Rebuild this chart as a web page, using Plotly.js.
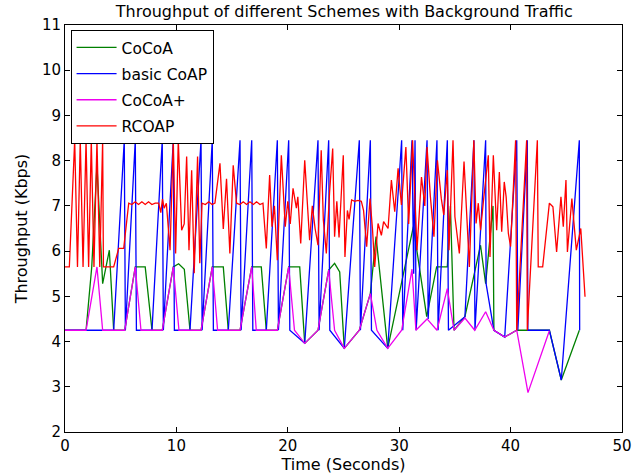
<!DOCTYPE html>
<html>
<head>
<meta charset="utf-8">
<script src="https://cdn.plot.ly/plotly-3.0.1.min.js"></script>
<style>
  html, body { margin: 0; padding: 0; background: #fff; }
  #chart { width: 634px; height: 474px; }
</style>
</head>
<body>
<div id="chart"></div>
<script>
// ---- data ----
const seriesNames = ["CoCoA", "basic CoAP", "CoCoA+", "RCOAP"];

const cocoaTime = [0, 1.89, 2.4, 2.87, 3.38, 3.98, 4.37, 5.36, 6.31, 7.2, 7.81, 8.73, 9.72, 10.2, 10.71, 11.22,
  12.21, 13.22, 14.21, 14.66, 15.71, 16.76, 17.62, 18.07, 19.06, 20.08, 21.07, 21.52, 22.71, 23.67, 24.2, 24.66,
  25.07, 26.42, 27.41, 27.92, 28.97, 31.27, 32.47, 33.36, 34.32, 34.6, 34.92, 35.9, 37.3, 37.76, 38.42, 38.5,
  39.47, 40.55, 41.5, 43.48, 44.55, 46.17];
const cocoaKbps = [4.25, 4.25, 5.65, 7.9, 5.28, 6.02, 4.25, 4.25, 5.65, 5.65, 4.25, 4.25, 5.65, 5.72, 5.6, 4.25,
  4.25, 5.65, 5.65, 4.25, 4.25, 5.65, 5.65, 4.25, 4.25, 5.65, 5.65, 3.96, 4.25, 5.58, 5.73, 5.54,
  3.85, 4.25, 5.06, 6.32, 3.85, 6.54, 4.55, 5.65, 5.65, 7.0, 4.25, 4.55, 6.13, 5.28, 7.0, 4.25,
  4.1, 4.25, 4.25, 4.25, 3.15, 4.25];

const coapTime = [0, 4.37, 5.32, 5.42, 6.31, 6.41, 7.81, 8.73, 8.83, 9.72, 9.82, 11.22, 12.21, 12.31, 13.22, 13.32,
  14.66, 15.71, 15.81, 16.76, 16.86, 18.07, 19.06, 19.16, 20.08, 20.18, 21.52, 22.71, 22.81, 23.67, 23.77,
  25.07, 26.42, 26.52, 27.41, 27.51, 28.97, 30.22, 30.32, 31.15, 31.3, 31.42, 31.52, 32.5, 32.6, 33.39, 33.49,
  34.32, 34.42, 35.9, 36.71, 36.8, 37.76, 37.8, 38.5, 39.47, 40.55, 40.65, 41.5, 41.55, 43.48, 44.55, 46.17, 46.2];
const coapKbps = [4.25, 4.25, 8.45, 4.25, 8.45, 4.25, 4.25, 8.45, 4.25, 8.45, 4.25, 4.25, 8.45, 4.25, 8.45, 4.25,
  4.25, 8.45, 4.25, 8.45, 4.25, 4.25, 8.45, 4.25, 8.45, 4.25, 3.96, 8.45, 4.25, 8.45, 4.25,
  3.85, 8.45, 4.25, 8.45, 4.25, 3.85, 8.45, 4.25, 8.45, 5.5, 8.45, 4.25, 8.45, 4.5, 8.45, 4.25,
  8.45, 4.25, 4.55, 8.45, 4.25, 8.45, 5.28, 4.25, 4.1, 8.45, 4.25, 8.45, 4.25, 4.25, 3.15, 8.45, 4.25];

const cocoaPlusTime = [0, 1.89, 2.87, 3.38, 5.36, 6.31, 6.82, 8.73, 9.72, 10.23, 12.21, 13.22, 13.7, 15.71, 16.76,
  17.17, 19.06, 20.08, 20.6, 21.52, 22.71, 23.67, 24.2, 25.07, 26.42, 27.41, 28.0, 28.97, 30.22, 31.15, 31.5,
  32.5, 33.39, 34.32, 34.92, 35.9, 36.78, 37.76, 38.5, 39.47, 40.55, 41.56, 43.48];
const cocoaPlusKbps = [4.25, 4.25, 5.65, 4.25, 4.25, 5.65, 4.25, 4.25, 5.65, 4.25, 4.25, 5.65, 4.25, 4.25, 5.65,
  4.25, 4.25, 5.65, 4.25, 3.96, 4.25, 5.58, 4.25, 3.85, 4.25, 5.06, 4.25, 3.85, 4.25, 5.6, 4.25,
  4.5, 4.25, 5.17, 4.25, 4.52, 4.25, 4.66, 4.25, 4.1, 4.25, 2.87, 4.24];

const rcoapTime = [0, 0.39, 0.87, 1.12, 1.37, 1.62, 1.89, 2.12, 2.36, 2.6, 2.87, 3.12, 3.38, 3.45, 4.37, 4.82, 5.27,
  5.72, 6.0, 6.3, 6.6, 6.9, 7.2, 7.5, 7.8, 8.1, 8.41, 8.6, 8.75, 8.9, 9.1, 9.43, 9.72, 9.93, 10.17, 10.47, 10.7,
  10.92, 11.13, 11.37, 11.6, 11.9, 12.1, 12.3, 12.6, 12.9, 13.2, 13.46, 13.91, 14.21, 14.5, 14.8, 15.1, 15.4,
  15.7, 16.0, 16.3, 16.6, 16.9, 17.2, 17.5, 17.77, 18.07, 18.37, 18.58, 18.8, 19.06, 19.42, 19.77, 20.0, 20.22,
  20.47, 20.77, 20.9, 21.16, 21.52, 21.96, 22.2, 22.45, 22.71, 23.0, 23.19, 23.46, 23.75, 24.03, 24.2, 24.4,
  24.6, 24.98, 25.13, 25.35, 25.5, 25.73, 26.0, 26.3, 26.6, 26.8, 27.08, 27.38, 27.6, 27.8, 28.1, 28.4, 28.6,
  29.0, 29.3, 29.6, 29.9, 30.2, 30.6, 30.85, 31.2, 31.6, 32.0, 32.3, 32.5, 32.8, 33.12, 33.43, 33.78, 34.0,
  34.32, 34.47, 34.83, 35.0, 35.4, 35.82, 36.0, 36.3, 36.7, 36.9, 37.1, 37.3, 37.6, 38.0, 38.15, 38.45, 38.75,
  38.99, 39.2, 39.43, 39.6, 39.8, 40.0, 40.45, 40.55, 41.44, 41.5, 42.4, 42.48, 42.88, 43.48, 43.8, 44.13,
  44.52, 44.73, 44.97, 45.1, 45.5, 45.9, 46.3, 46.68];
const rcoapKbps = [5.65, 5.65, 8.45, 5.65, 8.45, 5.65, 8.45, 5.65, 8.45, 5.65, 8.45, 5.65, 8.45, 5.65, 5.65, 6.06, 6.06,
  7.06, 7.03, 7.09, 7.03, 7.09, 7.03, 7.09, 7.03, 7.06, 7.06, 6.85, 7.15, 6.95, 7.06, 6.02, 8.45, 5.95, 8.45, 6.46, 6.6,
  8.09, 6.02, 7.79, 5.51, 8.09, 5.73, 7.06, 7.03, 7.09, 7.03, 7.06, 7.94, 6.49, 7.6, 5.95, 7.9, 7.06,
  7.03, 7.09, 7.03, 7.09, 7.03, 7.09, 7.03, 7.06, 6.06, 7.68, 6.54, 7.0, 5.8, 8.12, 6.54, 7.1, 6.6,
  7.39, 6.95, 7.2, 6.17, 8.01, 6.24, 7.0, 6.5, 6.13, 8.23, 6.69, 5.95, 7.3, 8.27, 6.32, 7.1,
  6.3, 8.12, 5.87, 6.9, 6.7, 7.13, 7.1, 7.12, 7.1, 6.9, 6.1, 7.16, 6.5, 5.65, 6.61, 6.35, 6.65,
  6.5, 7.57, 6.87, 7.83, 7.02, 8.3, 6.6, 8.45, 6.02, 7.64, 7.0, 8.3, 7.2, 6.32, 8.01, 7.16, 6.8,
  7.79, 6.02, 8.45, 6.76, 5.95, 7.98, 7.0, 5.65, 8.45, 6.61, 7.06, 6.46, 7.2, 8.12, 5.87, 8.12, 6.46,
  7.75, 6.43, 7.53, 7.2, 6.39, 6.1, 8.45, 4.25, 8.45, 4.25, 8.45, 5.65, 5.65, 7.06, 6.98, 5.98,
  7.2, 6.54, 7.57, 5.98, 7.16, 6.02, 6.5, 4.99];

const xTickVals = [0, 10, 20, 30, 40, 50];
const yTickVals = [2, 3, 4, 5, 6, 7, 8, 9, 10, 11];

// ---- styling ----
const FONT = "DejaVu Sans, Bitstream Vera Sans, sans-serif";
const colors = ["#008000", "#0000ff", "#ee00ee", "#ff0000"];
const xs = [cocoaTime, coapTime, cocoaPlusTime, rcoapTime];
const ys = [cocoaKbps, coapKbps, cocoaPlusKbps, rcoapKbps];

const traces = seriesNames.map((name, i) => ({
  type: "scatter",
  mode: "lines",
  name: name,
  x: xs[i],
  y: ys[i],
  line: { color: colors[i], width: 1.3 },
  legendgroup: "g" + i
}));

const axisCommon = {
  showgrid: false,
  zeroline: false,
  showline: true,
  linecolor: "#000",
  linewidth: 1,
  mirror: "ticks",
  ticks: "inside",
  ticklen: 5,
  tickwidth: 1,
  tickcolor: "#000",
  tickfont: { family: FONT, size: 15, color: "#000" }
};

const layout = {
  width: 634,
  height: 474,
  paper_bgcolor: "#fff",
  plot_bgcolor: "#fff",
  margin: { l: 65, r: 12, t: 25, b: 42, pad: 0 },
  title: {
    text: "Throughput of different Schemes with Background Traffic",
    font: { family: FONT, size: 16, color: "#000" },
    x: 0.543, xanchor: "center",
    y: 0.975, yanchor: "middle"
  },
  xaxis: Object.assign({}, axisCommon, {
    range: [0, 50],
    tickvals: xTickVals,
    ticktext: xTickVals.map(String),
    automargin: false,
    title: { text: "Time (Seconds)", font: { family: FONT, size: 16, color: "#000" }, standoff: 6 }
  }),
  yaxis: Object.assign({}, axisCommon, {
    range: [2, 11],
    tickvals: yTickVals,
    ticktext: yTickVals.map(String),
    automargin: false,
    title: { text: "Throughput (Kbps)", font: { family: FONT, size: 16, color: "#000" }, standoff: 10 }
  }),
  showlegend: true,
  legend: {
    x: 0.01, y: 0.988, xanchor: "left", yanchor: "top",
    bgcolor: "#fff",
    bordercolor: "#000",
    borderwidth: 1,
    font: { family: FONT, size: 15.5, color: "#000" },
    traceorder: "grouped",
    tracegroupgap: 3,
    itemwidth: 40,
    entrywidth: 112,
    entrywidthmode: "pixels"
  }
};

Plotly.newPlot("chart", traces, layout, { staticPlot: true, displayModeBar: false });
</script>
</body>
</html>
